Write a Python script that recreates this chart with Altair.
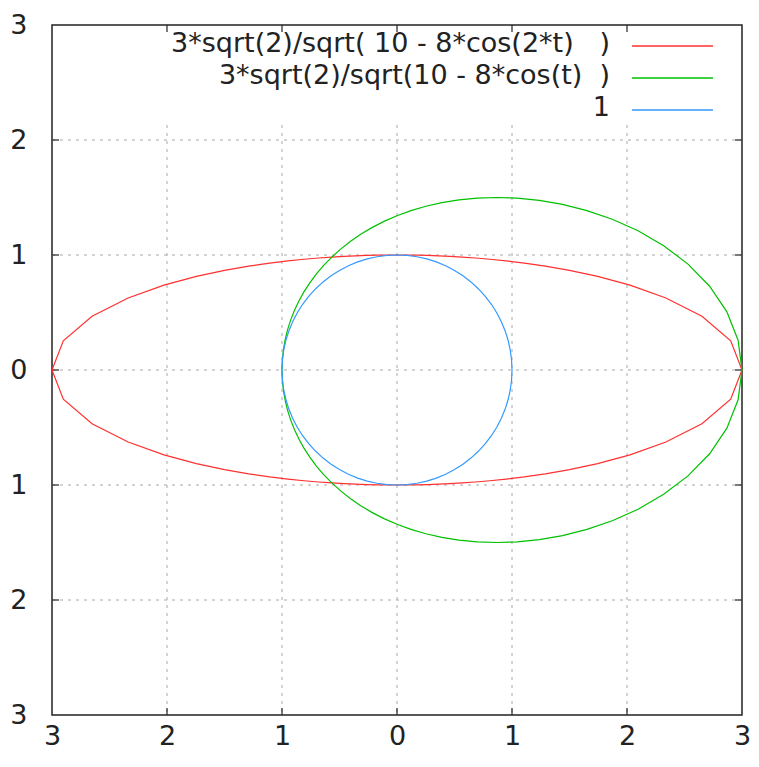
import altair as alt
import pandas as pd
import numpy as np

# ---- data (polar samples every 5 degrees) ----
angles_deg = [0, 5, 10, 15, 20, 25, 30, 35, 40, 45, 50, 55, 60, 65, 70, 75, 80, 85, 90,
              95, 100, 105, 110, 115, 120, 125, 130, 135, 140, 145, 150, 155, 160, 165, 170, 175, 180,
              185, 190, 195, 200, 205, 210, 215, 220, 225, 230, 235, 240, 245, 250, 255, 260, 265, 270,
              275, 280, 285, 290, 295, 300, 305, 310, 315, 320, 325, 330, 335, 340, 345, 350, 355, 360]

r_red = [3.0, 2.9128, 2.6927, 2.4207, 2.1562, 1.9250, 1.7321, 1.5742, 1.4458, 1.3416,
         1.2572, 1.1888, 1.1339, 1.0903, 1.0564, 1.0312, 1.0137, 1.0034, 1.0,
         1.0034, 1.0137, 1.0312, 1.0564, 1.0903, 1.1339, 1.1888, 1.2572, 1.3416,
         1.4458, 1.5742, 1.7321, 1.9250, 2.1562, 2.4207, 2.6927, 2.9128, 3.0,
         2.9128, 2.6927, 2.4207, 2.1562, 1.9250, 1.7321, 1.5742, 1.4458, 1.3416,
         1.2572, 1.1888, 1.1339, 1.0903, 1.0564, 1.0312, 1.0137, 1.0034, 1.0,
         1.0034, 1.0137, 1.0312, 1.0564, 1.0903, 1.1339, 1.1888, 1.2572, 1.3416,
         1.4458, 1.5742, 1.7321, 1.9250, 2.1562, 2.4207, 2.6927, 2.9128, 3.0]

r_green = [3.0, 2.9774, 2.9128, 2.8143, 2.6927, 2.5586, 2.4207, 2.2852, 2.1562, 2.0358,
           1.9250, 1.8238, 1.7321, 1.6491, 1.5742, 1.5067, 1.4458, 1.3910, 1.3416,
           1.2972, 1.2572, 1.2212, 1.1888, 1.1598, 1.1339, 1.1108, 1.0903, 1.0722,
           1.0564, 1.0428, 1.0312, 1.0215, 1.0137, 1.0077, 1.0034, 1.0009, 1.0,
           1.0009, 1.0034, 1.0077, 1.0137, 1.0215, 1.0312, 1.0428, 1.0564, 1.0722,
           1.0903, 1.1108, 1.1339, 1.1598, 1.1888, 1.2212, 1.2572, 1.2972, 1.3416,
           1.3910, 1.4458, 1.5067, 1.5742, 1.6491, 1.7321, 1.8238, 1.9250, 2.0358,
           2.1562, 2.2852, 2.4207, 2.5586, 2.6927, 2.8143, 2.9128, 2.9774, 3.0]

r_blue = [1.0] * 73

series_names = ["3*sqrt(2)/sqrt( 10 - 8*cos(2*t)   )",
                "3*sqrt(2)/sqrt(10 - 8*cos(t)  )",
                "1"]
series_colors = ["#ff3030", "#00c000", "#3399ff"]

tick_values = [-3, -2, -1, 0, 1, 2, 3]
grid_values = [-2, -1, 0, 1, 2]

# ---- build tables ----
rows = []
for name, rs in zip(series_names, [r_red, r_green, r_blue]):
    for i, (a, r) in enumerate(zip(angles_deg, rs)):
        th = np.deg2rad(a)
        rows.append({"series": name, "i": i, "x": r * np.cos(th), "y": r * np.sin(th)})
curves = pd.DataFrame(rows)

grid_df = pd.DataFrame({"v": grid_values})
legend_df = pd.DataFrame({
    "label": [s.replace(" ", "\u00a0") for s in series_names],
    "series": series_names,
    "py": [21 + 32 * k for k in range(len(series_names))],
})

W = 690
H = 690
FONT = "DejaVu Sans"
FS = 27

xs = alt.Scale(domain=[-3, 3], nice=False, zero=False)
ys = alt.Scale(domain=[-3, 3], nice=False, zero=False)
cscale = alt.Scale(domain=series_names, range=series_colors)

xaxis = alt.Axis(values=tick_values, labelExpr="abs(datum.value)", grid=False, ticks=False,
                 tickSize=0, domain=False, labelFontSize=FS, labelFont=FONT, labelColor="#222",
                 labelPadding=8, labelFlush=False, labelOverlap=False, title=None)
yaxis = alt.Axis(values=tick_values, labelExpr="abs(datum.value)", grid=False, ticks=False,
                 tickSize=0, domain=False, labelFontSize=FS, labelFont=FONT, labelColor="#222",
                 labelPadding=25, labelFlush=False, labelOverlap=False, title=None)

base_axes = alt.Chart(curves).mark_point(opacity=0).encode(
    x=alt.X("x:Q", scale=xs, axis=xaxis),
    y=alt.Y("y:Q", scale=ys, axis=yaxis),
)

dash = [3, 5]
vgrid = alt.Chart(grid_df).mark_rule(color="#a8a8a8", strokeDash=dash, strokeWidth=1).encode(
    x=alt.X("v:Q", scale=xs), y=alt.value(100), y2=alt.value(H))
hgrid = alt.Chart(grid_df).mark_rule(color="#a8a8a8", strokeDash=dash, strokeWidth=1).encode(
    y=alt.Y("v:Q", scale=ys), x=alt.value(0), x2=alt.value(W))

tk = dict(color="#222", strokeWidth=1.2)
tick_b = alt.Chart(grid_df).mark_rule(**tk).encode(
    x=alt.X("v:Q", scale=xs), y=alt.value(H), y2=alt.value(H - 7))
tick_t = alt.Chart(grid_df).mark_rule(**tk).encode(
    x=alt.X("v:Q", scale=xs), y=alt.value(0), y2=alt.value(7))
tick_l = alt.Chart(grid_df).mark_rule(**tk).encode(
    y=alt.Y("v:Q", scale=ys), x=alt.value(0), x2=alt.value(7))
tick_r = alt.Chart(grid_df).mark_rule(**tk).encode(
    y=alt.Y("v:Q", scale=ys), x=alt.value(W), x2=alt.value(W - 7))

lines = alt.Chart(curves).mark_line(strokeWidth=1.2, interpolate="linear").encode(
    x=alt.X("x:Q", scale=xs),
    y=alt.Y("y:Q", scale=ys),
    color=alt.Color("series:N", scale=cscale, legend=None),
    order=alt.Order("i:Q"),
    detail="series:N",
)

leg_text = alt.Chart(legend_df).mark_text(
    align="right", baseline="middle", font=FONT, fontSize=FS, color="#222", dy=-2
).encode(
    x=alt.value(558), y=alt.Y("py:Q", scale=None), text="label:N")
leg_line = alt.Chart(legend_df).mark_rule(strokeWidth=1.5).encode(
    x=alt.value(580), x2=alt.value(661), y=alt.Y("py:Q", scale=None),
    color=alt.Color("series:N", scale=cscale, legend=None))

chart = alt.layer(
    base_axes, vgrid, hgrid, tick_b, tick_t, tick_l, tick_r, lines, leg_line, leg_text
).properties(
    width=W, height=H,
    autosize=alt.AutoSizeParams(type="none"),
    padding={"left": 44, "top": 17, "right": 9, "bottom": 38},
    background="white",
).configure_view(stroke="#222", strokeWidth=1.5)

chart.save("out.html", embed_options={"renderer": "svg", "actions": False})
